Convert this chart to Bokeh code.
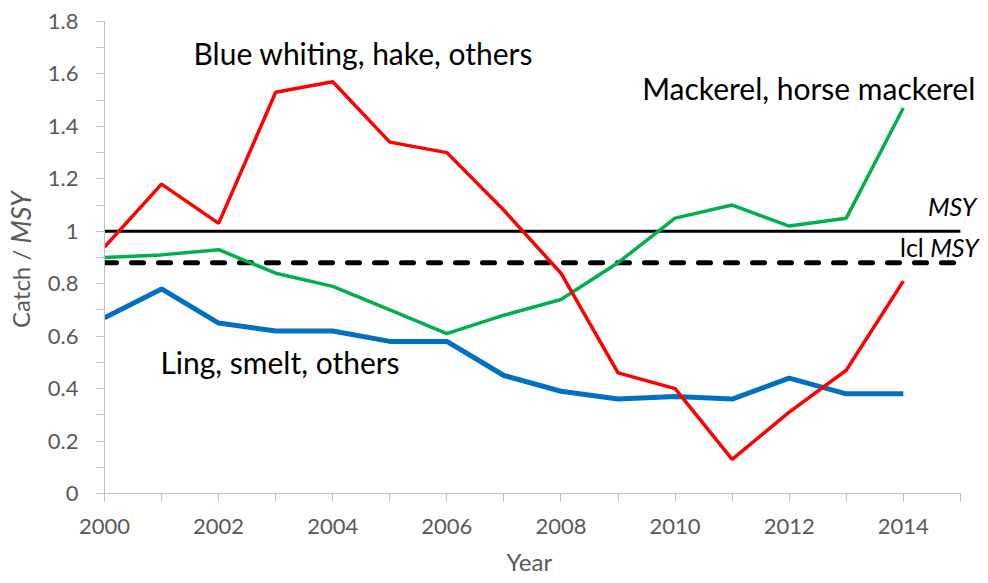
import math
from bokeh.plotting import figure
from bokeh.layouts import row
from bokeh.models import FixedTicker, Label, Range1d, Title
from bokeh.core.properties import value
from bokeh.embed import file_html
from bokeh.resources import INLINE

# ---------------- data ----------------
years = [2000, 2001, 2002, 2003, 2004, 2005, 2006, 2007, 2008, 2009, 2010, 2011, 2012, 2013, 2014]
blue_whiting_hake = [0.94, 1.18, 1.03, 1.53, 1.57, 1.34, 1.30, 1.08, 0.84, 0.46, 0.40, 0.13, 0.31, 0.47, 0.81]
mackerel_horse = [0.90, 0.91, 0.93, 0.84, 0.79, 0.70, 0.61, 0.68, 0.74, 0.88, 1.05, 1.10, 1.02, 1.05, 1.47]
ling_smelt = [0.67, 0.78, 0.65, 0.62, 0.62, 0.58, 0.58, 0.45, 0.39, 0.36, 0.37, 0.36, 0.44, 0.38, 0.38]

ref_x = [2000, 2015]
msy_level = [1.0, 1.0]
lcl_msy_level = [0.88, 0.88]

x_ticks = [2000, 2002, 2004, 2006, 2008, 2010, 2012, 2014]
x_minor_ticks = [2001, 2003, 2005, 2007, 2009, 2011, 2013, 2015]
y_ticks = [0, 0.2, 0.4, 0.6, 0.8, 1, 1.2, 1.4, 1.6, 1.8]
y_tick_labels = ["0", "0.2", "0.4", "0.6", "0.8", "1", "1.2", "1.4", "1.6", "1.8"]
y_minor_ticks = [0.1, 0.3, 0.5, 0.7, 0.9, 1.1, 1.3, 1.5, 1.7]

FONT = "Lato"
GRAY_TXT = "#595959"
GRAY_AX = "#bfbfbf"

H = 583
TOP = 21
BOTTOM = 90
LEFT_W = 40

y_range = Range1d(0, 1.8)

p = figure(width=945, height=H, output_backend="svg", toolbar_location=None,
           x_range=Range1d(2000, 2015.44), y_range=y_range,
           min_border_left=104 - LEFT_W, min_border_right=0,
           min_border_top=TOP, min_border_bottom=BOTTOM)
p.outline_line_color = None
p.xgrid.visible = False
p.ygrid.visible = False

# reference lines
p.line(ref_x, msy_level, line_color="black", line_width=3)
p.line(ref_x, lcl_msy_level, line_color="black", line_width=5, line_dash="12 15", line_cap="round")

# series
p.line(years, ling_smelt, line_color="#0070c0", line_width=5)
p.line(years, mackerel_horse, line_color="#00b050", line_width=3.5)
p.line(years, blue_whiting_hake, line_color="#ff0000", line_width=3.5)

# axes
for ax in (p.xaxis[0], p.yaxis[0]):
    ax.axis_line_color = GRAY_AX
    ax.major_tick_line_color = GRAY_AX
    ax.minor_tick_line_color = GRAY_AX
    ax.major_tick_out = 8
    ax.major_tick_in = 0
    ax.minor_tick_out = 8
    ax.minor_tick_in = 0
    ax.major_label_text_font = FONT
    ax.major_label_text_font_size = "22px"
    ax.major_label_text_color = GRAY_TXT

p.xaxis.ticker = FixedTicker(ticks=x_ticks, minor_ticks=x_minor_ticks)
p.xaxis.bounds = (2000, 2015)
p.xaxis.major_label_standoff = 17

p.yaxis.ticker = FixedTicker(ticks=y_ticks, minor_ticks=y_minor_ticks)
p.yaxis.major_label_overrides = {t: s for t, s in zip(y_ticks, y_tick_labels)}
p.yaxis.major_label_standoff = 18

# x axis title
p.add_layout(Title(text="Year", align="left", offset=402, standoff=16,
                   text_font=FONT, text_font_size="24px", text_font_style="normal",
                   text_color=GRAY_TXT), "below")

# series labels
def lab(x, y, text, align="left", style="normal", size="30px"):
    p.add_layout(Label(x=x, y=y, text=text, text_align=align, text_baseline="middle",
                       text_font=FONT, text_font_size=size, text_font_style=style,
                       text_color="black"))

lab(2001.56, 1.678, "Blue whiting, hake, others")
lab(2015.26, 1.548, "Mackerel, horse mackerel", align="right")
lab(2015.28, 1.095, "MSY", align="right", style="italic", size="25px")
lab(2014.47, 0.941, "MSY", align="left", style="italic", size="25px")
lab(2014.47, 0.941, "lcl ", align="right", size="25px")
lab(2000.98, 0.50, "Ling, smelt, others")

# left strip carrying the y axis title (mixed normal / italic)
ytitle_x = [20]
ytitle_y = [0.953]
left = figure(width=LEFT_W, height=H, output_backend="svg", toolbar_location=None,
              x_range=Range1d(0, LEFT_W), y_range=y_range,
              min_border_left=0, min_border_right=0,
              min_border_top=TOP, min_border_bottom=BOTTOM)
left.outline_line_color = None
left.xaxis.visible = False
left.yaxis.visible = False
left.xgrid.visible = False
left.ygrid.visible = False
left.text(x=ytitle_x, y=ytitle_y, text=["Catch / "], angle=math.pi / 2,
          text_align="right", text_baseline="middle", text_font=value(FONT),
          text_font_size=value("24px"), text_color=GRAY_TXT)
left.text(x=ytitle_x, y=ytitle_y, text=["MSY"], angle=math.pi / 2,
          text_align="left", text_baseline="middle", text_font=value(FONT),
          text_font_size=value("27px"), text_font_style=value("italic"), text_color=GRAY_TXT)

layout = row(left, p, spacing=0)
open("out.html", "w").write(file_html(layout, INLINE))
